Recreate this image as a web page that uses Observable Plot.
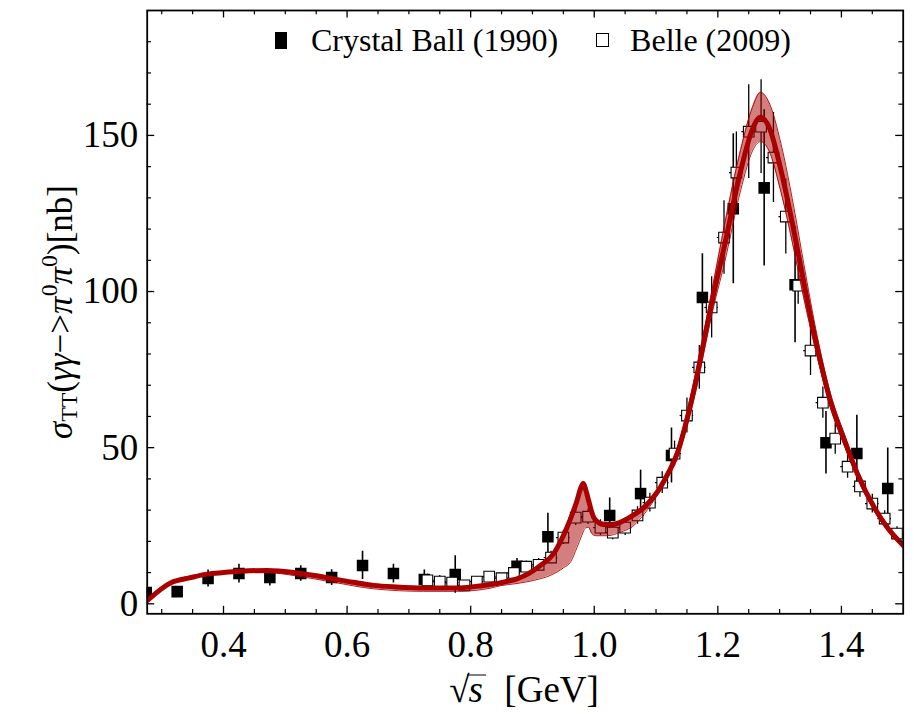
<!DOCTYPE html>
<html>
<head>
<meta charset="utf-8">
<script src="https://cdn.jsdelivr.net/npm/d3@7"></script>
<script src="https://cdn.jsdelivr.net/npm/@observablehq/plot@0.6"></script>
<style>
  body { margin: 0; background: #fff; }
  #wrap { position: relative; width: 914px; height: 718px; font-family: "Liberation Serif", "Times New Roman", serif; color: #000; }
  #wrap svg, #wrap svg text { font-family: "Liberation Serif", "Times New Roman", serif !important; }
  .ov { position: absolute; white-space: nowrap; line-height: 1; font-family: "Liberation Serif", "Times New Roman", serif; }
  #legend { left: 275px; top: 24px; display: flex; align-items: center; font-size: 32px; }
  .fsq { display: inline-block; width: 12px; height: 17px; background: #000; margin-right: 24px; }
  .osq { display: inline-block; width: 11px; height: 12px; border: 1.4px solid #000; margin-left: 38px; margin-right: 21px; }
  #ylab { left: 60px; top: 312px; font-size: 35px; transform: translate(-50%, -50%) rotate(-90deg); }
  #ylab sub { font-size: 0.68em; vertical-align: -0.22em; }
  #ylab sup { font-size: 0.68em; vertical-align: 0.62em; }
  #xlab { left: 524px; top: 689px; font-size: 37px; transform: translate(-50%, -50%); }
  .rs { font-style: italic; display: inline-block; border-top: 1.6px solid #000; line-height: 0.78; padding: 0 3px 0 1px; margin-left: -2px; }
</style>
</head>
<body>
<div id="wrap"></div>
<script>
// Crystal Ball (1990): sqrt(s) [GeV], sigma [nb], error [nb]
const cbX   = [0.275,0.325,0.375,0.425,0.475,0.525,0.575,0.625,0.675,0.725,0.775,0.875,0.925,1.025,1.075,1.125,1.175,1.225,1.275,1.325,1.375,1.425,1.475];
const cbY   = [3.6,3.9,8.1,9.7,8.4,9.7,8.4,12.3,9.7,7.8,9.4,12.0,21.5,28.3,35.3,47.5,98.1,126.5,133.2,102.2,51.6,48.1,36.9];
const cbErr = [1.5,1.5,2.7,3,2.7,2.5,2.5,4.5,3,3,6,2.5,7.5,5.6,7.5,8.8,14,24,25,18.6,10,12.3,13];

// Belle (2009)
const belleX   = [0.73,0.75,0.77,0.79,0.81,0.83,0.85,0.87,0.89,0.91,0.93,0.95,0.97,0.99,1.01,1.03,1.05,1.07,1.09,1.11,1.13,1.15,1.17,1.19,1.21,1.23,1.25,1.27,1.29,1.31,1.33,1.35,1.37,1.39,1.41,1.43,1.45,1.47,1.49];
const belleY   = [7.5,7.1,6.8,5.9,7.1,8.7,8.2,9.9,11.9,12.5,14.8,21.2,27.6,27.9,24.4,22.8,24.4,28.3,32.4,38.8,48.1,60.3,75.7,94.9,117.3,138.1,151.2,152.8,142.9,124.0,101.9,81.1,64.4,52.9,43.9,37.6,32.1,27.3,22.5];
const belleErr = [2,2,1.8,1.5,1.5,1.5,1.5,1.5,1.8,2,2,2.2,2.5,2.5,2.5,2.3,2.5,2.8,3,3.5,4,5.6,7,9.8,11.8,13,15,15,14.4,12,6,8,5,5,3.7,3.5,3,2.5,2.2];
const belleHalfBin = 0.011;

// Central theory curve
const curveX = [0.2765,0.3165,0.345,0.373,0.40,0.427,0.47,0.519,0.55,0.578,0.61,0.643,0.68,0.724,0.778,0.805,0.832,0.855,0.875,0.895,0.913,0.934,0.948,0.956,0.965,0.972,0.978,0.982,0.987,0.991,0.995,0.999,1.007,1.015,1.03,1.042,1.06,1.08,1.107,1.12,1.134,1.15,1.161,1.177,1.193,1.21,1.237,1.256,1.269,1.283,1.302,1.323,1.339,1.35,1.361,1.382,1.405,1.426,1.453,1.474,1.5];
const curveY = [1.0,6.9,8.3,9.5,10.0,10.4,10.7,9.9,9.0,8.0,6.9,5.9,5.4,5.1,5.1,5.5,6.2,7.0,8.0,9.8,12.3,16.0,21.0,24.5,29,33,37,38.5,36,33,30,27.7,26.0,25.4,25.4,26.1,28,30.8,37.3,42,48,59,68,83.5,99,114,138.7,152,155.8,152.6,139,119.5,103,92,82,65.1,52.3,41.6,30.9,24.5,18.7];

// Uncertainty band
const bandX  = [0.2765,0.3165,0.373,0.427,0.47,0.519,0.578,0.643,0.724,0.778,0.832,0.848,0.875,0.902,0.93,0.95,0.962,0.972,0.98,0.982,0.986,0.991,0.996,1.003,1.02,1.042,1.064,1.08,1.107,1.134,1.161,1.193,1.21,1.237,1.256,1.269,1.283,1.302,1.323,1.339,1.361,1.382,1.405,1.426,1.453,1.474,1.5];
const bandLo = [0.8,6.7,9.2,10.0,10.0,8.9,6.9,4.8,4.0,4.0,5.0,5.8,6.5,7.5,9.2,11.5,13.5,18,22,23,24.3,24.5,22.5,21.8,21.8,22.9,25.1,28.5,36.5,46.5,65.5,95,108.5,132.5,145,148,145,132,113.5,98,79,63,50.5,40.2,29.8,23.6,18];
const bandHi = [1.2,7.1,9.7,10.6,10.9,10.1,8.2,6.1,5.3,5.3,6.4,7.0,8.2,10.8,15.3,21.7,27.6,33.2,38.2,38.7,36.5,33.2,29.3,27.0,25.6,26.3,29.0,31.0,38.0,49.5,71.0,103,120.5,145.5,159,163.8,160.5,147.5,127,109,85.5,67.5,54.2,43,32,25.4,19.4];

// Axis ticks
const xMajor = [0.4,0.6,0.8,1.0,1.2,1.4];
const xMinor = [0.3,0.35,0.45,0.5,0.55,0.65,0.7,0.75,0.85,0.9,0.95,1.05,1.1,1.15,1.25,1.3,1.35,1.45];
const yMajor = [0,50,100,150];
const yMinor = [10,20,30,40,60,70,80,90,110,120,130,140,160,170,180];

const cb = cbX.map((x,i)=>({x, y: cbY[i], e: cbErr[i]}));
const belle = belleX.map((x,i)=>({x, y: belleY[i], e: belleErr[i]}));
const curve = curveX.map((x,i)=>({x, y: curveY[i]}));
const band = bandX.map((x,i)=>({x, lo: bandLo[i], hi: bandHi[i]}));

const width = 914, height = 718;
const mL = 146.7, mR = 11.3, mT = 10, mB = 104.7;
const H = height - mT - mB, W = width - mL - mR;
const red = "#aa0000";
const serif = '"Liberation Serif", "Times New Roman", serif';

const plot = Plot.plot({
  width, height,
  marginLeft: mL, marginRight: mR, marginTop: mT, marginBottom: mB,
  style: {fontFamily: serif, fontSize: "37px", color: "black", background: "white", overflow: "visible"},
  x: {domain: [0.2765, 1.5], ticks: xMajor, tickSize: 0, tickPadding: 17, tickFormat: d3.format(".1f"), label: null},
  y: {domain: [-3.2, 190], ticks: yMajor, tickSize: 0, tickPadding: 9, label: null},
  marks: [
    // Crystal Ball
    Plot.ruleX(cb, {x: "x", y1: d=>d.y-d.e, y2: d=>d.y+d.e, stroke: "black", strokeWidth: 1.6, clip: true}),
    Plot.dot(cb, {x: "x", y: "y", symbol: "square", r: 6.5, fill: "black", stroke: "none", clip: true}),
    // Belle
    Plot.ruleX(belle, {x: "x", y1: d=>d.y-d.e, y2: d=>d.y+d.e, stroke: "black", strokeWidth: 1.3, clip: true}),
    Plot.ruleY(belle, {y: "y", x1: d=>d.x-belleHalfBin, x2: d=>d.x+belleHalfBin, stroke: "black", strokeWidth: 1.2, clip: true}),
    Plot.dot(belle, {x: "x", y: "y", symbol: "square", r: 6.0, fill: "white", stroke: "black", strokeWidth: 1.1, clip: true}),
    // band
    Plot.areaY(band, {x: "x", y1: "lo", y2: "hi", fill: red, fillOpacity: 0.5, curve: "monotone-x", clip: true}),
    Plot.line(band, {x: "x", y: "lo", stroke: red, strokeWidth: 0.9, curve: "monotone-x", clip: true}),
    Plot.line(band, {x: "x", y: "hi", stroke: red, strokeWidth: 0.9, curve: "monotone-x", clip: true}),
    // central curve
    Plot.line(curve, {x: "x", y: "y", stroke: red, strokeWidth: 5, curve: "monotone-x", clip: true}),
    // inside ticks
    Plot.tickX(xMajor, {x: d=>d, insetTop: H-7.5, stroke: "black", strokeWidth: 1.3}),
    Plot.tickX(xMajor, {x: d=>d, insetBottom: H-7.5, stroke: "black", strokeWidth: 1.3}),
    Plot.tickX(xMinor, {x: d=>d, insetTop: H-4.3, stroke: "black", strokeWidth: 1.2}),
    Plot.tickX(xMinor, {x: d=>d, insetBottom: H-4.3, stroke: "black", strokeWidth: 1.2}),
    Plot.tickY(yMajor, {y: d=>d, insetRight: W-7.5, stroke: "black", strokeWidth: 1.3}),
    Plot.tickY(yMajor, {y: d=>d, insetLeft: W-7.5, stroke: "black", strokeWidth: 1.3}),
    Plot.tickY(yMinor, {y: d=>d, insetRight: W-4.3, stroke: "black", strokeWidth: 1.2}),
    Plot.tickY(yMinor, {y: d=>d, insetLeft: W-4.3, stroke: "black", strokeWidth: 1.2}),
    Plot.frame({stroke: "black", strokeWidth: 1.8})
  ]
});

const wrap = document.getElementById("wrap");
wrap.appendChild(plot);
wrap.insertAdjacentHTML("beforeend", `
  <div id="legend" class="ov"><span class="fsq"></span><span>Crystal Ball (1990)</span><span class="osq"></span><span>Belle (2009)</span></div>
  <div id="ylab" class="ov"><i>σ</i><sub>TT</sub>(<i>γγ</i>−&gt;<i>π</i><sup>0</sup><i>π</i><sup>0</sup>)[nb]</div>
  <div id="xlab" class="ov">√<span class="rs">s</span>&nbsp;&nbsp;[GeV]</div>
`);
</script>
</body>
</html>
